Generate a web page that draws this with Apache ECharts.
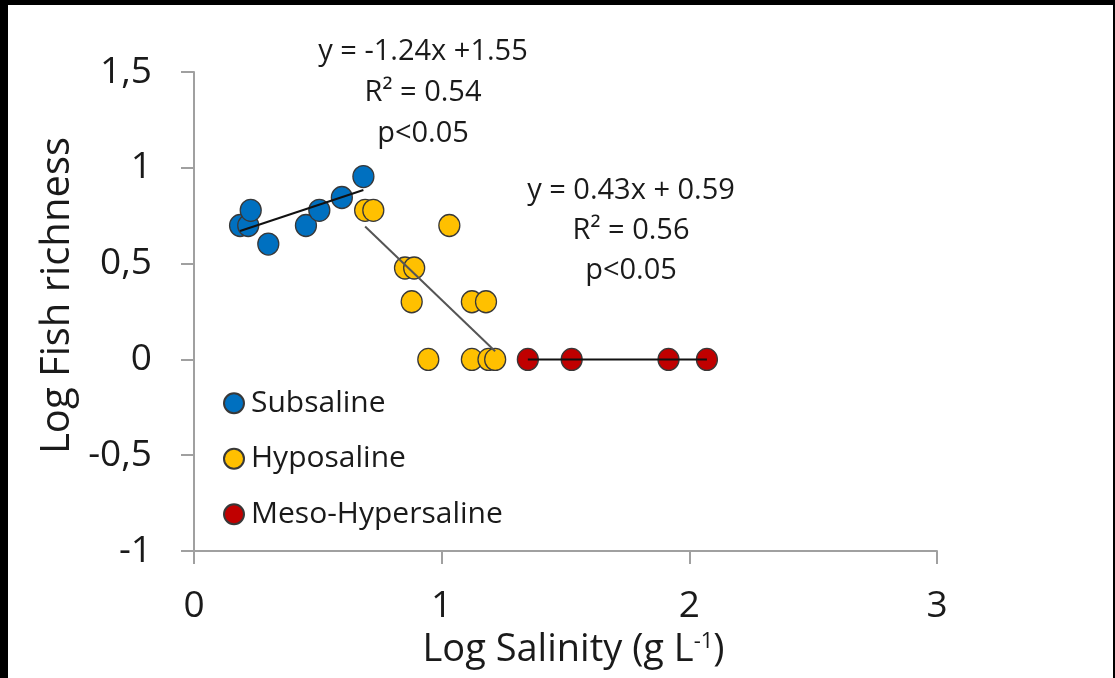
<!DOCTYPE html>
<html>
<head>
<meta charset="utf-8">
<script src="https://cdn.jsdelivr.net/npm/echarts@6/dist/echarts.min.js"></script>
<style>
  html, body { margin: 0; padding: 0; background: #fff; }
  #chart { width: 1115px; height: 678px; }
</style>
</head>
<body>
<div id="chart"></div>
<script>
// Log salinity (x) and log fish richness (y) for each lake group
const subsalineX = [0.186, 0.219, 0.229, 0.300, 0.452, 0.506, 0.597, 0.684];
const subsalineY = [0.699, 0.699, 0.778, 0.602, 0.699, 0.778, 0.845, 0.954];

const hyposalineX = [0.691, 0.724, 1.031, 0.852, 0.889, 0.879, 1.122, 1.179, 0.946, 1.122, 1.189, 1.216];
const hyposalineY = [0.778, 0.778, 0.699, 0.477, 0.477, 0.301, 0.301, 0.301, 0.000, 0.000, 0.000, 0.000];

const mesoX = [1.348, 1.525, 1.916, 2.071];
const mesoY = [0, 0, 0, 0];

// Fitted regressions (slope, intercept)
const fitSubsaline = [0.43, 0.59];
const fitHyposaline = [-1.24, 1.55];
const fitMeso = [0, 0];

const groupNames = ['Subsaline', 'Hyposaline', 'Meso-Hypersaline'];
const groupColors = ['#0070C0', '#FFC000', '#C00000'];

const xTicks = { min: 0, max: 3, step: 1 };
const yTicks = { min: -1, max: 1.5, step: 0.5 };

const annotations = [
  ['y = -1.24x +1.55', 'R² = 0.54', 'p<0.05'],
  ['y = 0.43x + 0.59', 'R² = 0.56', 'p<0.05']
];

const FONT = '"Open Sans", "Noto Sans", sans-serif';
const TXT = '#1a1a1a';

function pairs(xs, ys) { return xs.map((x, i) => [x, ys[i]]); }
function fitLine(xs, fit) {
  const lo = Math.min(...xs), hi = Math.max(...xs);
  return [[lo, fit[0] * lo + fit[1]], [hi, fit[0] * hi + fit[1]]];
}

const groups = [
  { x: subsalineX, y: subsalineY, fit: fitSubsaline },
  { x: hyposalineX, y: hyposalineY, fit: fitHyposaline },
  { x: mesoX, y: mesoY, fit: fitMeso }
];

const scatterSeries = groups.map((g, i) => ({
  name: groupNames[i],
  type: 'scatter',
  data: pairs(g.x, g.y),
  symbol: 'circle',
  symbolSize: [21, 22],
  itemStyle: { color: groupColors[i], borderColor: '#383838', borderWidth: 1.3, opacity: 1 },
  z: 3
}));

const lineColors = ['#111', '#555', '#111'];
const trendSeries = groups.map((g, i) => ({
  type: 'line',
  data: fitLine(g.x, g.fit),
  symbol: 'none',
  silent: true,
  lineStyle: { color: lineColors[i], width: 2 },
  z: 4
}));

const axisGray = '#a0a0a0';
const chart = echarts.init(document.getElementById('chart'), null, { renderer: 'canvas' });

function annoText(lines, cx, y0, dy) {
  return lines.map((t, k) => ({
    type: 'text',
    x: cx, y: y0 + k * dy,
    style: { text: t, fill: TXT, font: '29px ' + FONT, textAlign: 'center', textVerticalAlign: 'middle' }
  }));
}

chart.setOption({
  backgroundColor: '#fff',
  animation: false,
  grid: { left: 194, right: 178, top: 72, bottom: 127 },
  xAxis: {
    type: 'value',
    min: xTicks.min, max: xTicks.max, interval: xTicks.step,
    name: 'Log Salinity (g L{sup|-1})',
    nameLocation: 'middle',
    nameGap: 80,
    nameTextStyle: { color: TXT, fontFamily: FONT, fontSize: 38, padding: [0, 0, 0, 16],
      rich: { sup: { fontSize: 22, verticalAlign: 'top', padding: [0, 0, 15, 0], color: TXT, fontFamily: FONT } } },
    axisLine: { onZero: false, lineStyle: { color: axisGray, width: 2 } },
    axisTick: { show: true, inside: false, length: 13, lineStyle: { color: axisGray, width: 2 } },
    axisLabel: { color: TXT, fontFamily: FONT, fontSize: 37, margin: 37 },
    splitLine: { show: false }
  },
  yAxis: {
    type: 'value',
    min: yTicks.min, max: yTicks.max, interval: yTicks.step,
    name: 'Log Fish richness',
    nameLocation: 'middle',
    nameGap: 116,
    nameRotate: 90,
    nameTextStyle: { color: TXT, fontFamily: FONT, fontSize: 40, padding: [0, 0, 0, 32] },
    axisLine: { onZero: false, lineStyle: { color: axisGray, width: 2 } },
    axisTick: { show: true, inside: false, length: 13, lineStyle: { color: axisGray, width: 2 } },
    axisLabel: { color: TXT, fontFamily: FONT, fontSize: 37, margin: 42,
      formatter: v => String(v).replace('.', ',') },
    splitLine: { show: false }
  },
  legend: {
    data: groupNames,
    orient: 'vertical',
    left: 218, top: 379,
    itemWidth: 20, itemHeight: 20,
    itemGap: 17,
    icon: 'circle',
    textStyle: { color: TXT, fontFamily: FONT, fontSize: 30, lineHeight: 38.5, padding: [0, 0, 0, 2] }
  },
  series: scatterSeries.concat(trendSeries),
  graphic: [
    // dark frame around the figure
    { type: 'rect', shape: { x: 0, y: 0, width: 1115, height: 5 }, style: { fill: '#000' }, z: 100 },
    { type: 'rect', shape: { x: 0, y: 0, width: 8, height: 678 }, style: { fill: '#000' }, z: 100 },
    { type: 'rect', shape: { x: 1113, y: 0, width: 2, height: 678 }, style: { fill: '#000' }, z: 100 }
  ].concat(annoText(annotations[0], 423, 52, 41), annoText(annotations[1], 631, 191, 40))
});
</script>
</body>
</html>
